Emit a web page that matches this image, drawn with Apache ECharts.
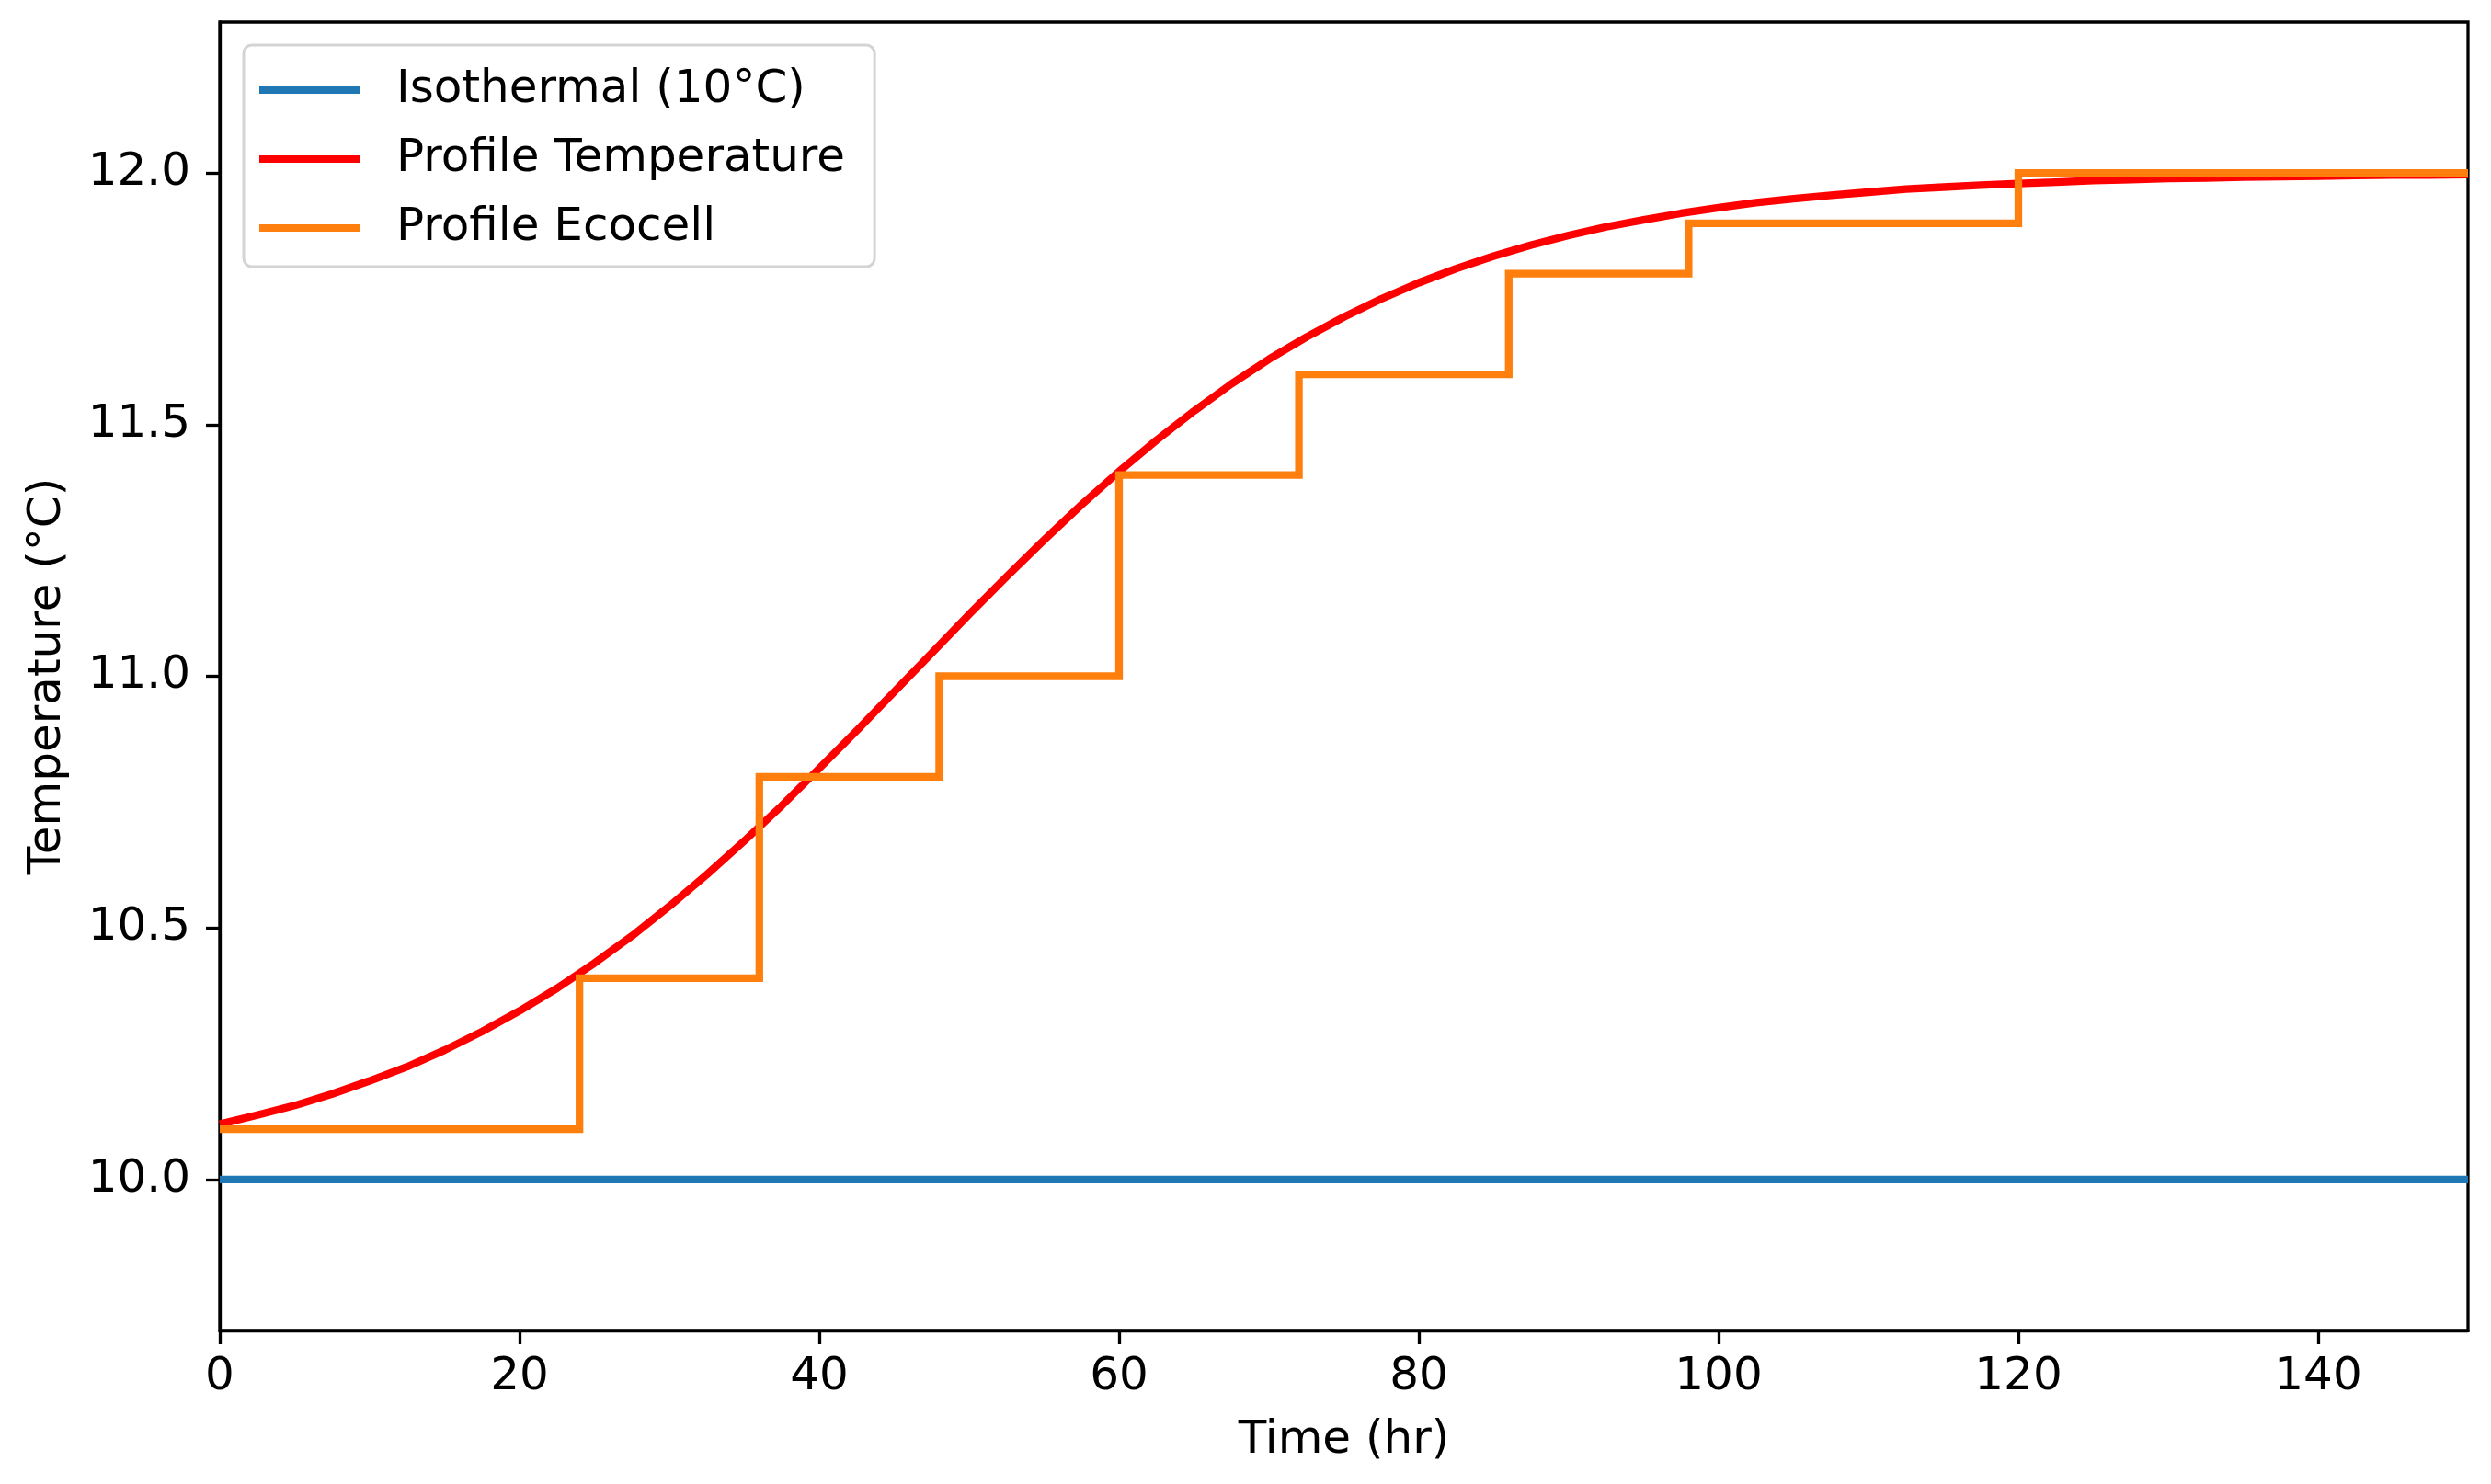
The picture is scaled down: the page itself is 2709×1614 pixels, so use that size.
<!DOCTYPE html>
<html>
<head>
<meta charset="utf-8">
<script src="https://cdn.jsdelivr.net/npm/echarts@6/dist/echarts.min.js"></script>
<style>
html,body{margin:0;padding:0;background:#fff;}
#chart{width:2709px;height:1614px;}
</style>
</head>
<body>
<div id="chart"></div>
<script>
// Data
const seriesNames = ['Isothermal (10°C)', 'Profile Temperature', 'Profile Ecocell'];
const isoTime = [0, 150];
const isoTemp = [10.0, 10.0];
const profileTime = [0, 2.5, 5, 7.5, 10, 12.5, 15, 17.5, 20, 22.5, 25, 27.5, 30, 32.5, 35, 37.5, 40, 42.5, 45, 47.5, 50, 52.5, 55, 57.5, 60, 62.5, 65, 67.5, 70, 72.5, 75, 77.5, 80, 82.5, 85, 87.5, 90, 92.5, 95, 97.5, 100, 102.5, 105, 107.5, 110, 112.5, 115, 117.5, 120, 122.5, 125, 127.5, 130, 132.5, 135, 137.5, 140, 142.5, 145, 147.5, 150];
const profileTemp = [10.110, 10.128, 10.147, 10.170, 10.196, 10.224, 10.257, 10.294, 10.335, 10.380, 10.430, 10.484, 10.543, 10.606, 10.673, 10.743, 10.817, 10.892, 10.969, 11.046, 11.123, 11.198, 11.271, 11.341, 11.407, 11.469, 11.527, 11.581, 11.630, 11.674, 11.714, 11.750, 11.782, 11.810, 11.835, 11.857, 11.876, 11.893, 11.907, 11.920, 11.931, 11.941, 11.949, 11.956, 11.962, 11.968, 11.972, 11.976, 11.979, 11.982, 11.985, 11.987, 11.989, 11.990, 11.992, 11.993, 11.994, 11.995, 11.996, 11.996, 11.997];
const ecoTime = [0, 24, 36, 48, 60, 72, 86, 98, 120, 150];
const ecoTemp = [10.1, 10.4, 10.8, 11.0, 11.4, 11.6, 11.8, 11.9, 12.0, 12.0];
const yTicks = [10.0, 10.5, 11.0, 11.5, 12.0];
const xTicks = [0, 20, 40, 60, 80, 100, 120, 140];

const zip = (a, b) => a.map((v, i) => [v, b[i]]);
const FONT = 'DejaVu Sans';
const chart = echarts.init(document.getElementById('chart'), null, {renderer: 'canvas'});
chart.setOption({
  animation: false,
  backgroundColor: '#ffffff',
  grid: {left: 239, right: 25, top: 24, bottom: 167, show: true, borderColor: '#000', borderWidth: 3.3, backgroundColor: 'transparent'},
  legend: {
    left: 265, top: 49, orient: 'vertical',
    padding: [19, 32, 12, 17],
    backgroundColor: 'rgba(255,255,255,0.8)',
    borderColor: '#d4d4d4', borderWidth: 3, borderRadius: 9,
    itemWidth: 110, itemHeight: 8, itemGap: 15,
    icon: 'rect',
    data: seriesNames,
    textStyle: {fontFamily: FONT, fontSize: 50, color: '#000', lineHeight: 60, padding: [0, 0, 0, 34]}
  },
  xAxis: {
    type: 'value', min: 0, max: 150, interval: 20,
    name: 'Time (hr)', nameLocation: 'middle', nameGap: 95,
    nameTextStyle: {fontFamily: FONT, fontSize: 50, color: '#000'},
    axisLine: {show: true, onZero: false, lineStyle: {color: '#000', width: 3.3}},
    axisTick: {show: true, length: 15, lineStyle: {color: '#000', width: 3.3}, customValues: xTicks},
    axisLabel: {fontFamily: FONT, fontSize: 50, color: '#000', margin: 26, customValues: xTicks},
    splitLine: {show: false}
  },
  yAxis: {
    type: 'value', min: 9.7, max: 12.3,
    name: 'Temperature (°C)', nameLocation: 'middle', nameGap: 162, nameRotate: 90,
    nameTextStyle: {fontFamily: FONT, fontSize: 50, color: '#000'},
    axisLine: {show: true, onZero: false, lineStyle: {color: '#000', width: 3.3}},
    axisTick: {show: true, length: 15, lineStyle: {color: '#000', width: 3.3}, customValues: yTicks},
    axisLabel: {fontFamily: FONT, fontSize: 50, color: '#000', margin: 32, customValues: yTicks, formatter: v => v.toFixed(1)},
    splitLine: {show: false}
  },
  series: [
    {name: seriesNames[0], type: 'line', data: zip(isoTime, isoTemp), showSymbol: false, symbol: 'none', color: '#1f77b4', lineStyle: {width: 8.3, color: '#1f77b4'}},
    {name: seriesNames[1], type: 'line', data: zip(profileTime, profileTemp), smooth: false, showSymbol: false, symbol: 'none', color: '#ff0000', lineStyle: {width: 8.3, color: '#ff0000', join: 'round'}},
    {name: seriesNames[2], type: 'line', step: 'end', data: zip(ecoTime, ecoTemp), showSymbol: false, symbol: 'none', color: '#ff7f0e', lineStyle: {width: 8.3, color: '#ff7f0e', join: 'miter'}}
  ]
});
</script>
</body>
</html>
